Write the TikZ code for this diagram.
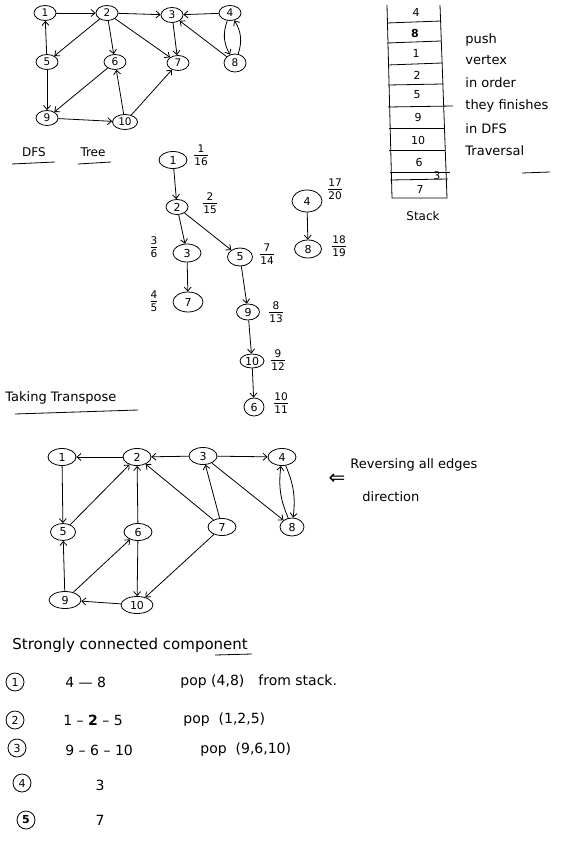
\documentclass[tikz,border=0pt]{standalone}
\usepackage{fontspec}
\setmainfont{DejaVu Sans}
\usetikzlibrary{shapes.geometric,arrows.meta}
\setlength{\arrayrulewidth}{0.7pt}
\newcommand{\fr}[2]{\begin{tabular}{@{}c@{}}#1\\[-1pt]\hline\rule{0pt}{10pt}#2\end{tabular}}
\begin{document}
\begin{tikzpicture}[x=1pt,y=-1pt,line width=0.8pt,
  vx/.style={ellipse,draw,inner sep=0pt,minimum width=22pt,minimum height=15pt,font=\fontsize{10.5}{11}\selectfont},
  tv/.style={vx,minimum width=28pt,minimum height=17pt,font=\fontsize{11}{12}\selectfont},
  dv/.style={vx,minimum width=24pt,minimum height=17pt,font=\fontsize{11}{12}\selectfont},
  arr/.style={-{Straight Barb[length=4pt,width=7pt]}},
  txt/.style={font=\fontsize{13}{15}\selectfont,inner sep=0pt},
  row/.style={font=\fontsize{14}{16}\selectfont,inner sep=0pt},
  stk/.style={font=\fontsize{11}{12}\selectfont,inner sep=0pt},
  frc/.style={font=\fontsize{10.5}{11}\selectfont,inner sep=0pt},
  cnum/.style={circle,draw,inner sep=0pt,minimum size=18pt,font=\fontsize{11}{12}\selectfont}]
\useasboundingbox (0,0) rectangle (560,850);

% ---------- original graph ----------
\node[vx] (a1) at (45,13) {1};
\node[vx] (a2) at (107,13) {2};
\node[vx] (a3) at (172,15) {3};
\node[vx] (a4) at (230,13) {4};
\node[vx] (a5) at (47,62) {5};
\node[vx] (a6) at (115,62) {6};
\node[vx] (a7) at (178,63) {7};
\node[vx,minimum height=18pt] (a8) at (235,63) {8};
\node[vx] (a9) at (47,118) {9};
\node[vx,minimum width=25pt] (a10) at (125,122) {10};
\draw[arr] (a1) -- (a2);
\draw[arr] (a2) -- (a3);
\draw[arr] (a4) -- (a3);
\draw[arr] (a2) -- (a5);
\draw[arr] (a2) -- (a6);
\draw[arr] (a2) -- (a7);
\draw[arr] (a3) -- (a7);
\draw[arr] (a8) -- (a3);
\draw[arr] (a4) to[bend right=25] (a8);
\draw[arr] (a8) to[bend right=25] (a4);
\draw[arr] (a5) -- (a1);
\draw[arr] (a5) -- (a9);
\draw[arr] (a6) -- (a9);
\draw[arr] (a9) -- (a10);
\draw[arr] (a10) -- (a6);
\draw[arr] (a10) -- (a7);

% ---------- stack ----------
\draw (387,5) -- (392,198) -- (447,198) -- (440,5);
\draw (387,23) -- (441,21);
\draw (387,43) -- (441,41);
\draw (388,65) -- (442,63);
\draw (388,85) -- (443,84);
\draw (388,107) -- (453,106);
\draw (389,128) -- (444,128);
\draw (389,150) -- (445,150);
\draw (390,172) -- (450,172);
\draw (390,180) -- (448,179);
\node[stk] (s4) at (416,12) {4};
\node[stk] (s8) at (415,33) {\textbf{8}};
\node[stk] (s1) at (416,53) {1};
\node[stk] (s2) at (417,75) {2};
\node[stk] (s5) at (417,95) {5};
\node[stk] (s9) at (418,117) {9};
\node[stk] (s10) at (418,140) {10};
\node[stk] (s6) at (419,162) {6};
\node[frc] (s3) at (437,176) {3};
\node[stk] (s7) at (420,189) {7};
\node[txt,font=\fontsize{12}{14}\selectfont] (stack) at (423,216) {Stack};
\node[txt,anchor=west] (p1) at (465,40) {push};
\node[txt,anchor=west] (p2) at (465,60) {vertex};
\node[txt,anchor=west] (p3) at (465,83) {in order};
\node[txt,anchor=west] (p4) at (465,106) {they finishes};
\node[txt,anchor=west] (p5) at (465,129) {in DFS};
\node[txt,anchor=west] (p6) at (465,151) {Traversal};
\draw (522,173) -- (550,172);

% ---------- DFS tree ----------
\node[txt,font=\fontsize{12}{14}\selectfont] (dfs) at (34,152) {DFS};
\node[txt,font=\fontsize{12}{14}\selectfont] (tree) at (93,152) {Tree};
\draw (12,164) -- (55,162);
\draw (78,164) -- (111,162);

\node[dv,minimum width=28pt] (t1) at (173,160) {1};
\node[dv,minimum width=22pt,minimum height=15pt] (t2) at (177,207) {2};
\node[dv,minimum width=28pt,minimum height=18pt] (t3) at (187,253) {3};
\node[dv,minimum width=25pt,minimum height=18pt] (t5) at (240,257) {5};
\node[dv,minimum width=30pt,minimum height=20pt] (t7) at (188,302) {7};
\node[dv,minimum width=23pt,minimum height=16pt] (t9) at (248,312) {9};
\node[dv,minimum width=24pt,minimum height=14pt] (t10) at (252,361) {10};
\node[dv,minimum width=20pt,minimum height=18pt] (t6) at (254,407) {6};
\node[dv,minimum width=30pt,minimum height=22pt] (t4) at (307,201) {4};
\node[dv,minimum width=27pt,minimum height=18pt] (t8) at (308,249) {8};
\draw[arr] (t1) -- (t2);
\draw[arr] (t2) -- (t3);
\draw[arr] (t2) -- (t5);
\draw[arr] (t3) -- (t7);
\draw[arr] (t5) -- (t9);
\draw[arr] (t9) -- (t10);
\draw[arr] (t10) -- (t6);
\draw[arr] (t4) -- (t8);
\node[frc] (f1) at (201,157) {\fr{1}{16}};
\node[frc] (f2) at (210,205) {\fr{2}{15}};
\node[frc] (f3) at (154,249) {\fr{3}{6}};
\node[frc] (f5) at (267,256) {\fr{7}{14}};
\node[frc] (f7) at (154,303) {\fr{4}{5}};
\node[frc] (f9) at (276,314) {\fr{8}{13}};
\node[frc] (f10) at (278,362) {\fr{9}{12}};
\node[frc] (f6) at (281,405) {\fr{10}{11}};
\node[frc] (f4) at (335,191) {\fr{17}{20}};
\node[frc] (f8) at (339,248) {\fr{18}{19}};

% ---------- transpose ----------
\node[txt,anchor=west] (tt) at (5,398) {Taking Transpose};
\draw (15,414) -- (138,410);

\node[tv] (b1) at (62,457) {1};
\node[tv] (b2) at (137,457) {2};
\node[tv] (b3) at (203,456) {3};
\node[tv] (b4) at (282,457) {4};
\node[tv,minimum width=25pt] (b5) at (63,532) {5};
\node[tv] (b6) at (138,532) {6};
\node[tv] (b7) at (222,527) {7};
\node[tv,minimum width=24pt,minimum height=18pt] (b8) at (292,527) {8};
\node[tv,minimum width=32pt] (b9) at (65,600) {9};
\node[tv,minimum width=32pt] (b10) at (137,605) {10};
\draw[arr] (b2) -- (b1);
\draw[arr] (b3) -- (b2);
\draw[arr] (b3) -- (b4);
\draw[arr] (b1) -- (b5);
\draw[arr] (b5) -- (b2);
\draw[arr] (b6) -- (b2);
\draw[arr] (b7) -- (b2);
\draw[arr] (b7) -- (b3);
\draw[arr] (b3) -- (b8);
\draw[arr] (b8) to[bend left=15] (b4);
\draw[arr] (b4) to[bend left=15] (b8);
\draw[arr] (b9) -- (b5);
\draw[arr] (b9) -- (b6);
\draw[arr] (b6) -- (b10);
\draw[arr] (b10) -- (b9);
\draw[arr] (b7) -- (b10);

\node[txt,font=\fontsize{20}{22}\selectfont] (la) at (337,479) {⇐};
\node[txt,anchor=west] (rv1) at (350,465) {Reversing all edges};
\node[txt,anchor=west] (rv2) at (362,497) {direction};

% ---------- SCC ----------
\node[txt,anchor=west,font=\fontsize{15}{17}\selectfont] (scc) at (12,645) {Strongly connected component};
\draw (215,655) -- (252,654);
\node[cnum] (c1) at (15,682) {1};
\node[cnum] (c2) at (15,720) {2};
\node[cnum] (c3) at (17,748) {3};
\node[cnum] (c4) at (22,783) {4};
\node[cnum] (c5) at (26,820) {\textbf{5}};
\node[row,anchor=west] (r1) at (65,682) {4 — 8};
\node[row,anchor=west] (q1) at (180,682) {pop (4,8)\quad from stack.};
\node[row,anchor=west] (r2) at (63,720) {1 – \textbf{2} – 5};
\node[row,anchor=west] (q2) at (183,720) {pop \ (1,2,5)};
\node[row,anchor=west] (r3) at (65,750) {9 – 6 – 10};
\node[row,anchor=west] (q3) at (200,750) {pop \ (9,6,10)};
\node[row] (r4) at (100,785) {3};
\node[row] (r5) at (100,820) {7};
\end{tikzpicture}
\end{document}
